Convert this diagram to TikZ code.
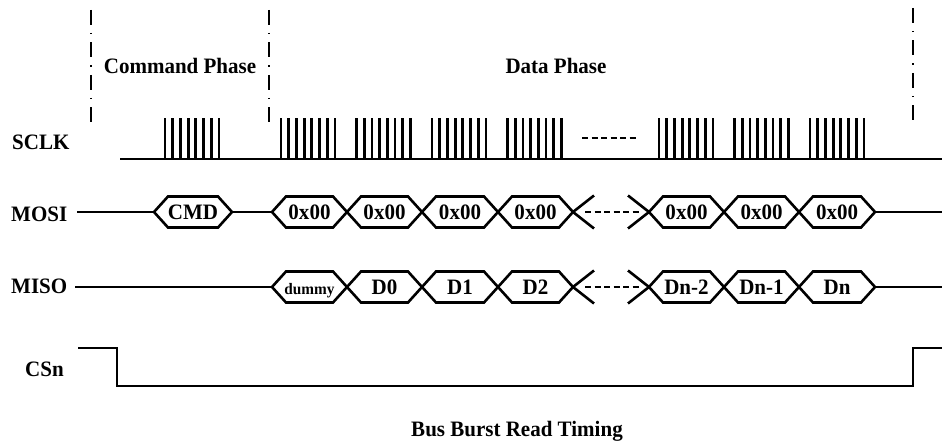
\documentclass[tikz,border=0pt]{standalone}
\usepackage{fontspec}
\setmainfont{Liberation Serif}[FakeStretch=0.955]
\tikzset{
  sig/.style={line width=2.6pt},
  pulse/.style={line width=2.8pt},
  gapdash/.style={line width=2.6pt, dash pattern=on 6pt off 3.5pt},
  phaseline/.style={line width=1.5pt, dash pattern=on 15pt off 8pt on 1.5pt off 8pt},
  lab/.style={font=\fontsize{22}{26}\selectfont\bfseries, inner sep=0pt},
  smalllab/.style={font=\fontsize{16}{19}\selectfont\bfseries, inner sep=0pt}
}
\newcommand{\hexbox}[6]{% style, name, xl, xr, yc, text
  \draw[sig] (#3,#5) -- ({#3+14},{#5-15.5}) -- ({#4-14},{#5-15.5}) -- (#4,#5)
     -- ({#4-14},{#5+15.5}) -- ({#3+14},{#5+15.5}) -- cycle;
  \node[#1, anchor=base] (#2) at ({(#3+#4)/2},{#5+7.3}) {#6};
}
\begin{document}
\begin{tikzpicture}[x=1pt,y=-1pt]
\useasboundingbox (0,0) rectangle (942,443);

% phase separators
\draw[phaseline] (91,10) -- (91,123);
\draw[phaseline] (269,10) -- (269,123);
\draw[phaseline] (913,8) -- (913,121);

% titles
\node[lab, anchor=base] (cmdph) at (180,74) {Command Phase};
\node[lab, anchor=base] (dataph) at (556,74) {Data Phase};
\node[lab, anchor=base] (title) at (517,436) {Bus Burst Read Timing};

% signal names
\node[lab, anchor=base west] (sclk) at (12,150) {SCLK};
\node[lab, anchor=base west] (mosi) at (11,222) {MOSI};
\node[lab, anchor=base west] (miso) at (11,294) {MISO};
\node[lab, anchor=base west] (csn) at (25,377) {CSn};

% SCLK
\coordinate (sclkA) at (120,159);
\coordinate (sclkB) at (942,159);
\draw[sig] (sclkA) -- (sclkB);
\foreach \s in {165,281,356.5,432,507.5,659,734.5,810}
  \foreach \i in {0,...,7}
    \draw[pulse] ({\s+\i*7.7},159) -- ({\s+\i*7.7},118);
\coordinate (sdA) at (582,138);
\coordinate (sdB) at (636,138);
\draw[gapdash] (sdA) -- (sdB);

% MOSI
\coordinate (mosiA) at (77,212);
\coordinate (cmdL) at (154,212);
\coordinate (cmdR) at (232,212);
\coordinate (d0L) at (272,212);
\coordinate (mosiE) at (875,212);
\coordinate (mosiB) at (942,212);
\draw[sig] (mosiA) -- (cmdL);
\draw[sig] (cmdR) -- (d0L);
\draw[sig] (mosiE) -- (mosiB);
\hexbox{lab}{hcmd}{154}{232}{212}{CMD}
\hexbox{lab}{ha1}{272}{347}{212}{0x00}
\hexbox{lab}{ha2}{347}{422}{212}{0x00}
\hexbox{lab}{ha3}{422}{498}{212}{0x00}
\hexbox{lab}{ha4}{498}{573}{212}{0x00}
\hexbox{lab}{ha5}{649}{724}{212}{0x00}
\hexbox{lab}{ha6}{724}{799}{212}{0x00}
\hexbox{lab}{ha7}{799}{875}{212}{0x00}
\coordinate (mxA) at (573,212);
\coordinate (mxB) at (649,212);
\draw[sig] (mxA) -- (594,195.5);
\draw[sig] (mxA) -- (594,228.5);
\draw[sig] (mxB) -- (628,195.5);
\draw[sig] (mxB) -- (628,228.5);
\coordinate (mdA) at (585,212);
\coordinate (mdB) at (640,212);
\draw[gapdash] (mdA) -- (mdB);

% MISO
\coordinate (misoA) at (75,287);
\coordinate (misoL) at (272,287);
\coordinate (misoE) at (875,287);
\coordinate (misoB) at (942,287);
\draw[sig] (misoA) -- (misoL);
\draw[sig] (misoE) -- (misoB);
\hexbox{smalllab}{hb0}{272}{347}{287}{dummy}
\hexbox{lab}{hb1}{347}{422}{287}{D0}
\hexbox{lab}{hb2}{422}{498}{287}{D1}
\hexbox{lab}{hb3}{498}{573}{287}{D2}
\hexbox{lab}{hb4}{649}{724}{287}{Dn-2}
\hexbox{lab}{hb5}{724}{799}{287}{Dn-1}
\hexbox{lab}{hb6}{799}{875}{287}{Dn}
\coordinate (ixA) at (573,287);
\coordinate (ixB) at (649,287);
\draw[sig] (ixA) -- (594,270.5);
\draw[sig] (ixA) -- (594,303.5);
\draw[sig] (ixB) -- (628,270.5);
\draw[sig] (ixB) -- (628,303.5);
\coordinate (idA) at (585,287);
\coordinate (idB) at (640,287);
\draw[gapdash] (idA) -- (idB);

% CSn
\coordinate (csA) at (78,348);
\coordinate (csB) at (942,348);
\draw[sig] (csA) -- (117,348) -- (117,386) -- (913,386) -- (913,348) -- (csB);
\end{tikzpicture}
\end{document}
